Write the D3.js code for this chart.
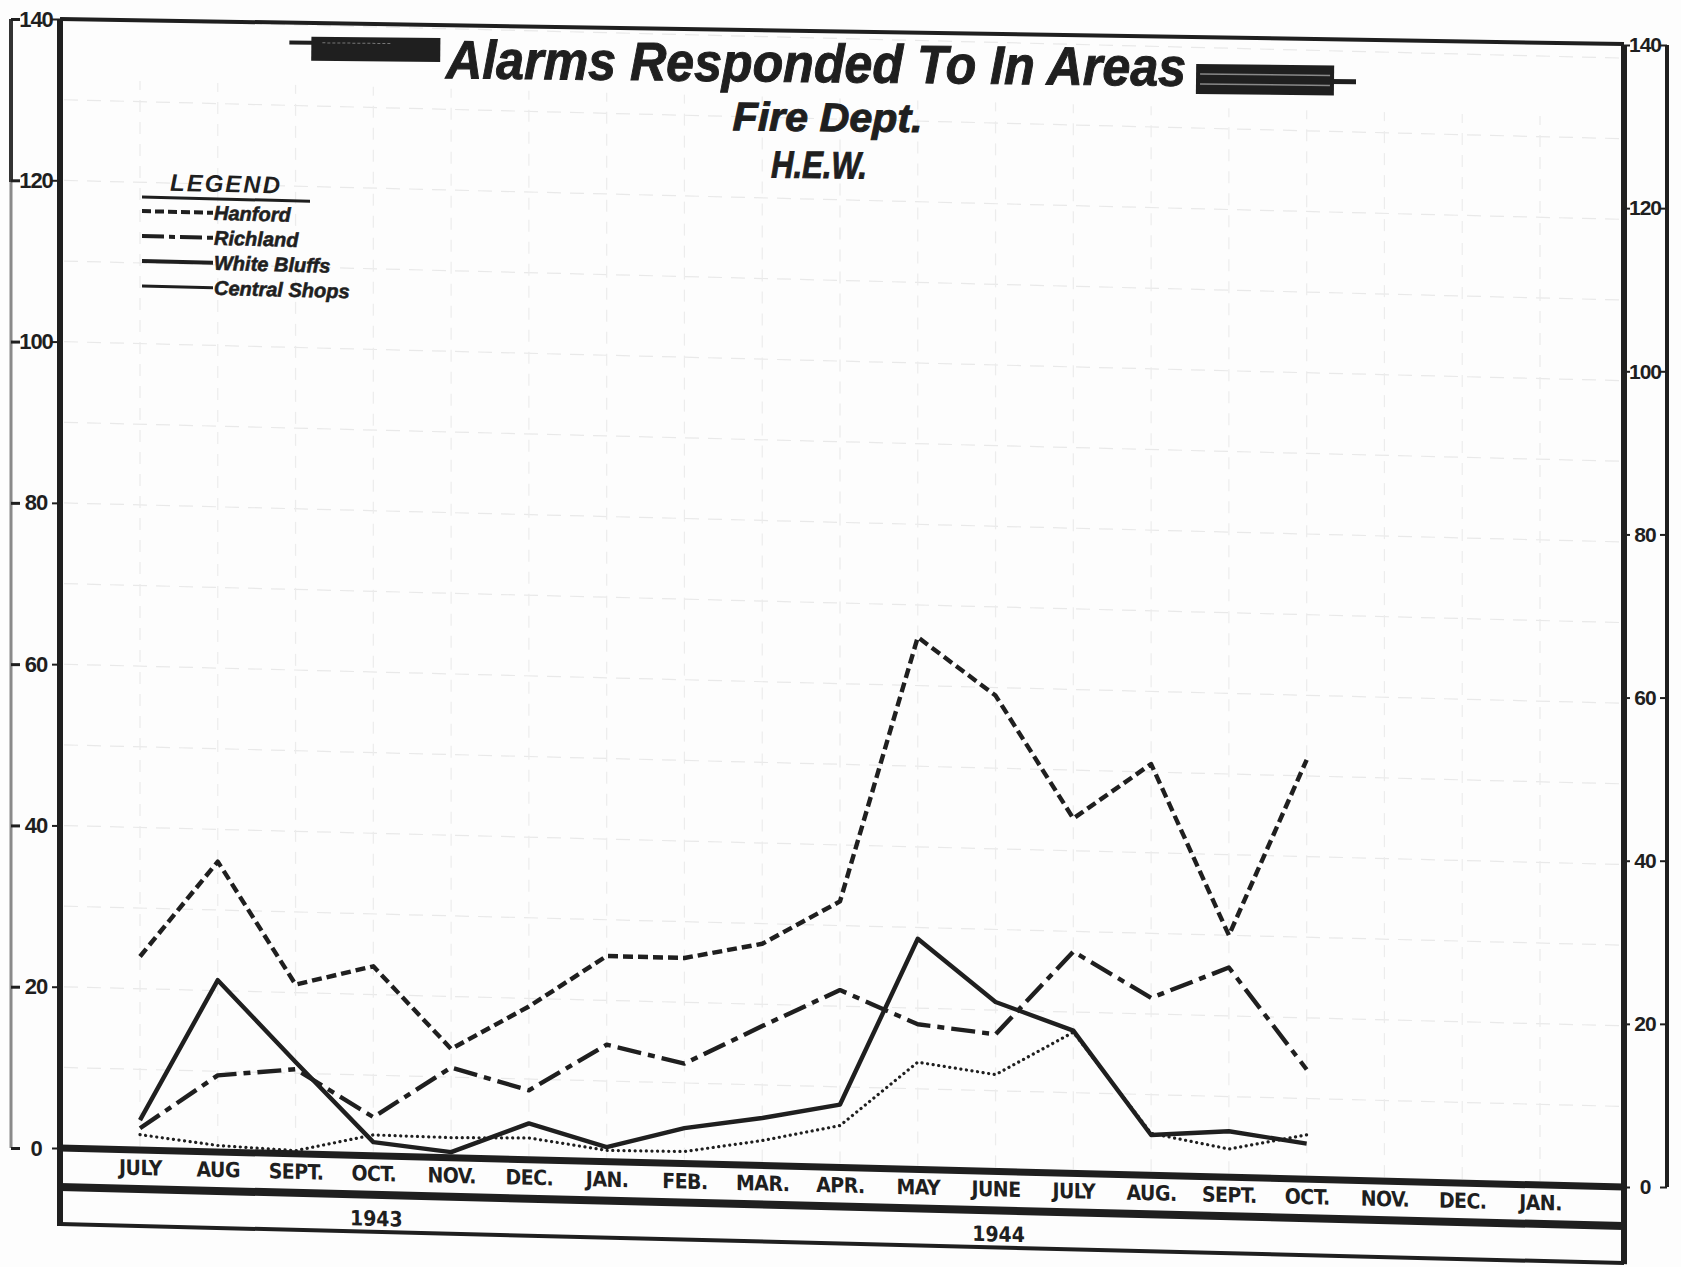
<!DOCTYPE html>
<html>
<head>
<meta charset="utf-8">
<script src="https://cdn.jsdelivr.net/npm/d3@7"></script>
<style>
  html, body { margin: 0; padding: 0; background: #fdfdfd; }
  svg { display: block; }
</style>
</head>
<body>
<svg id="chart" width="1681" height="1267"></svg>
<script>
// ---------- data ----------
const months = ["JULY","AUG","SEPT.","OCT.","NOV.","DEC.","JAN.","FEB.","MAR.","APR.","MAY","JUNE","JULY","AUG.","SEPT.","OCT.","NOV.","DEC.","JAN."];
const years = ["1943", "1944"];
const yearAnchor = [3, 11];           // month index under which each year label sits
const yTicks = [0, 20, 40, 60, 80, 100, 120, 140];

const hanford      = [24, 36, 21, 23.5, 13.5, 19, 25.5, 25.5, 27.5, 33, 66, 59, 44, 51, 30, 52];
const richland     = [2.7, 9.5, 10.5, 4.8, 11.2, 8.6, 14.5, 12.4, 17.3, 22, 18, 17, 27.5, 22, 26, 13.6];
const whiteBluffs  = [3.7, 21.3, 11.4, 1.7, 0.7, 4.5, 1.8, 4.4, 5.9, 7.8, 28.6, 21, 17.7, 5, 5.7, 4.4];
const centralShops = [1.9, 0.8, 0.4, 2.6, 2.5, 2.7, 1.4, 1.5, 3.1, 5.2, 13.3, 12, 17.5, 5.2, 3.5, 5.5];

const seriesNames = ["Hanford", "Richland", "White Bluffs", "Central Shops"];
const seriesData = [hanford, richland, whiteBluffs, centralShops];

// ---------- styles ----------
const ink = "#1f1f1f";
const styles = [
  { width: 4.4, dash: "10,5", cap: "butt" },
  { width: 4.4, dash: "24,7,7,7", cap: "butt" },
  { width: 4.4, dash: null, cap: "butt" },
  { width: 3.2, dash: "0.1,5.5", cap: "round" }
];
const legendStyles = [
  { width: 4, dash: "9,4" },
  { width: 4, dash: "22,5,6,5" },
  { width: 4, dash: null },
  { width: 3, dash: null }
];

const svg = d3.select("#chart");
const W = 1681, H = 1267;
svg.append("rect").attr("width", W).attr("height", H).attr("fill", "#fdfdfd");

// ---------- geometry ----------
const frameL = 60, frameR = 1624;
const zeroY = 1148, topY = 19;
const x = d3.scalePoint().domain(d3.range(months.length)).range([140, 1540]);
const yL = d3.scaleLinear().domain([0, 140]).range([zeroY, topY]);
const yR = d3.scaleLinear().domain([0, 140]).range([1187, 45]);

const skew = 0.025;
const g = svg.append("g").attr("transform", `matrix(1,${skew},0,1,0,${-skew * frameL})`);

// faint grid
const gridVals = d3.range(10, 141, 10);
g.append("g").selectAll("line").data(gridVals).join("line")
  .attr("x1", frameL + 4).attr("x2", frameR - 4)
  .attr("y1", d => yL(d)).attr("y2", d => yL(d))
  .attr("stroke", "#e9e9e9").attr("stroke-width", 1.2).attr("stroke-dasharray", "14,9");
g.append("g").selectAll("line").data(d3.range(months.length)).join("line")
  .attr("x1", d => x(d)).attr("x2", d => x(d))
  .attr("y1", zeroY - 4).attr("y2", topY + 60)
  .attr("stroke", "#ececec").attr("stroke-width", 1.2).attr("stroke-dasharray", "12,10");

// frame pieces in skewed frame
g.append("line").attr("x1", frameL).attr("x2", frameL).attr("y1", topY).attr("y2", 1226)
  .attr("stroke", ink).attr("stroke-width", 6);
g.append("line").attr("x1", frameR).attr("x2", frameR).attr("y1", 45 - skew * (frameR - frameL)).attr("y2", 1225)
  .attr("stroke", ink).attr("stroke-width", 6);
g.append("line").attr("x1", frameL).attr("x2", frameR).attr("y1", zeroY).attr("y2", zeroY)
  .attr("stroke", ink).attr("stroke-width", 7);
g.append("line").attr("x1", frameL).attr("x2", frameR).attr("y1", 1187).attr("y2", 1187)
  .attr("stroke", ink).attr("stroke-width", 8);
g.append("line").attr("x1", frameL).attr("x2", frameR).attr("y1", 1224).attr("y2", 1224)
  .attr("stroke", ink).attr("stroke-width", 4);

// month axis
const xAxis = d3.axisBottom(x).tickSize(0).tickFormat(i => months[i]);
const xg = g.append("g").attr("transform", `translate(0,${zeroY})`).call(xAxis);
xg.select(".domain").remove();
xg.selectAll("text")
  .attr("y", 25).attr("dy", 0)
  .attr("fill", ink)
  .attr("font-family", "'Liberation Sans Narrow','DejaVu Sans Condensed',sans-serif")
  .attr("font-weight", "bold").attr("font-size", 21)
  .attr("letter-spacing", -0.5);

// year labels
g.append("g").selectAll("text").data(years).join("text")
  .attr("x", (d, i) => x(yearAnchor[i]) + 3)
  .attr("y", 1218)
  .attr("text-anchor", "middle")
  .attr("fill", ink)
  .attr("font-family", "'Liberation Sans Narrow','DejaVu Sans Condensed',sans-serif")
  .attr("font-weight", "bold").attr("font-size", 21)
  .text(d => d);

// data lines
const line = d3.line().x((d, i) => x(i)).y(d => yL(d));
g.append("g").selectAll("path").data(seriesData).join("path")
  .attr("d", d => line(d))
  .attr("fill", "none")
  .attr("stroke", ink)
  .attr("stroke-width", (d, i) => styles[i].width)
  .attr("stroke-dasharray", (d, i) => styles[i].dash)
  .attr("stroke-linecap", (d, i) => styles[i].cap)
  .attr("stroke-linejoin", "round");

// legend (skewed frame, like the paper)
const lg = g.append("g").attr("transform", "translate(0,-3)");
lg.append("text").attr("x", 226).attr("y", 191).attr("text-anchor", "middle")
  .attr("fill", ink).attr("font-family", "'Liberation Sans',sans-serif")
  .attr("font-weight", "bold").attr("font-style", "italic").attr("font-size", 24)
  .attr("letter-spacing", 2).text("LEGEND");
lg.append("line").attr("x1", 142).attr("x2", 310).attr("y1", 198).attr("y2", 198)
  .attr("stroke", ink).attr("stroke-width", 3);
const legY = [212, 237, 262, 287];
const le = lg.selectAll("g.le").data(seriesNames).join("g").attr("class", "le");
le.append("line")
  .attr("x1", 142).attr("x2", 213)
  .attr("y1", (d, i) => legY[i]).attr("y2", (d, i) => legY[i])
  .attr("stroke", ink)
  .attr("stroke-width", (d, i) => legendStyles[i].width)
  .attr("stroke-dasharray", (d, i) => legendStyles[i].dash);
le.append("text")
  .attr("x", 214).attr("y", (d, i) => legY[i] + 7)
  .attr("fill", ink).attr("font-family", "'Liberation Sans',sans-serif")
  .attr("font-weight", "bold").attr("font-style", "italic").attr("font-size", 20)
  .attr("stroke", ink).attr("stroke-width", 0.6)
  .text(d => d);

// ---------- absolute (unskewed) parts ----------
// top border
svg.append("line").attr("x1", frameL).attr("x2", frameR).attr("y1", 19).attr("y2", 44)
  .attr("stroke", ink).attr("stroke-width", 4);

// left outer scale
svg.append("line").attr("x1", 11).attr("x2", 11).attr("y1", 19).attr("y2", 182)
  .attr("stroke", "#333").attr("stroke-width", 4);
svg.append("line").attr("x1", 11).attr("x2", 11).attr("y1", 182).attr("y2", 1148)
  .attr("stroke", "#8a8a8a").attr("stroke-width", 3);
const la = svg.append("g").attr("transform", "translate(36,0)")
  .call(d3.axisLeft(yL).tickValues(yTicks).tickSize(0));
la.select(".domain").remove();
la.selectAll("text").attr("x", 0).attr("text-anchor", "middle")
  .attr("fill", ink).attr("font-family", "'Liberation Sans',sans-serif")
  .attr("font-weight", "bold").attr("font-size", 22).attr("letter-spacing", -1);
la.selectAll(".tick").append("line").attr("x1", -25).attr("x2", -16).attr("stroke", ink).attr("stroke-width", 3);
la.selectAll(".tick").append("line").attr("x1", 16).attr("x2", 24).attr("stroke", ink).attr("stroke-width", 2);

// right outer scale
svg.append("line").attr("x1", 1667).attr("x2", 1667).attr("y1", 45).attr("y2", 1187)
  .attr("stroke", ink).attr("stroke-width", 4);
const ra = svg.append("g").attr("transform", "translate(1645,0)")
  .call(d3.axisRight(yR).tickValues(yTicks).tickSize(0));
ra.select(".domain").remove();
ra.selectAll("text").attr("x", 0).attr("text-anchor", "middle")
  .attr("fill", ink).attr("font-family", "'Liberation Sans',sans-serif")
  .attr("font-weight", "bold").attr("font-size", 21).attr("letter-spacing", -1);
ra.selectAll(".tick").append("line").attr("x1", -21).attr("x2", -15).attr("stroke", ink).attr("stroke-width", 2);
ra.selectAll(".tick").append("line").attr("x1", 15).attr("x2", 22).attr("stroke", ink).attr("stroke-width", 2);

// title block
const tg = svg.append("g").attr("transform", "rotate(0.6,816,80)");
tg.append("line").attr("x1", 289).attr("x2", 312).attr("y1", 48).attr("y2", 48).attr("stroke", ink).attr("stroke-width", 4);
tg.append("rect").attr("x", 311).attr("y", 42).attr("width", 129).attr("height", 24).attr("fill", ink);
tg.append("line").attr("x1", 322).attr("x2", 390).attr("y1", 48).attr("y2", 48).attr("stroke", "#777").attr("stroke-width", 1).attr("stroke-dasharray", "3,2");
tg.append("rect").attr("x", 1196).attr("y", 60).attr("width", 138).attr("height", 30).attr("fill", ink);
tg.append("line").attr("x1", 1200).attr("x2", 1330).attr("y1", 70).attr("y2", 70).attr("stroke", "#888").attr("stroke-width", 1.5);
tg.append("line").attr("x1", 1200).attr("x2", 1330).attr("y1", 80).attr("y2", 80).attr("stroke", "#888").attr("stroke-width", 1.5);
tg.append("line").attr("x1", 1330).attr("x2", 1356).attr("y1", 76).attr("y2", 76).attr("stroke", ink).attr("stroke-width", 5);

tg.append("text").attr("x", 816).attr("y", 82).attr("text-anchor", "middle")
  .attr("textLength", 740).attr("lengthAdjust", "spacingAndGlyphs")
  .attr("fill", ink).attr("font-family", "'Liberation Sans',sans-serif")
  .attr("font-weight", "bold").attr("font-style", "italic").attr("font-size", 54)
  .attr("stroke", ink).attr("stroke-width", 1)
  .text("Alarms Responded To In Areas");
tg.append("text").attr("x", 828).attr("y", 131).attr("text-anchor", "middle")
  .attr("textLength", 190).attr("lengthAdjust", "spacingAndGlyphs")
  .attr("fill", ink).attr("font-family", "'Liberation Sans',sans-serif")
  .attr("font-weight", "bold").attr("font-style", "italic").attr("font-size", 40)
  .attr("stroke", ink).attr("stroke-width", 1)
  .text("Fire Dept.");
tg.append("text").attr("x", 820).attr("y", 178).attr("text-anchor", "middle")
  .attr("textLength", 96).attr("lengthAdjust", "spacingAndGlyphs")
  .attr("fill", ink).attr("font-family", "'Liberation Sans',sans-serif")
  .attr("font-weight", "bold").attr("font-style", "italic").attr("font-size", 38)
  .attr("stroke", ink).attr("stroke-width", 1)
  .text("H.E.W.");
</script>
</body>
</html>
